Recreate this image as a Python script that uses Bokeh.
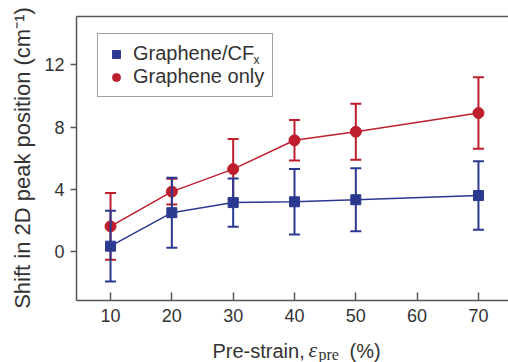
import math
from bokeh.plotting import figure
from bokeh.models import Range1d, Legend, LegendItem, FixedTicker, ColumnDataSource
from bokeh.core.properties import value
from bokeh.embed import file_html
from bokeh.resources import INLINE

# ---- data ----
strain = [10, 20, 30, 40, 50, 70]
cfx_shift = [0.35, 2.5, 3.15, 3.2, 3.33, 3.6]
cfx_err = [2.27, 2.25, 1.55, 2.1, 2.02, 2.2]
only_shift = [1.62, 3.85, 5.3, 7.15, 7.7, 8.9]
only_err = [2.15, 0.83, 1.94, 1.3, 1.8, 2.3]
x_ticks = [10, 20, 30, 40, 50, 60, 70]
y_ticks = [0, 4, 8, 12]

# axes box limits (data units)
X0, X1 = 4.45, 74.9
Y0, Y1 = -3.14, 15.1

BLUE = "#2B3990"
RED = "#BE1E2D"
AX = "#555555"
TXT = "#333333"
FONT = "Liberation Sans"

W, H = 508, 362
# the frame spans the whole canvas; the axes box sits inside it
PX_X = 432 / (X1 - X0)     # pixels per x unit
PX_Y = 284 / (Y1 - Y0)     # pixels per y unit
XS = X0 - 76 / PX_X
YE = Y1 + 16 / PX_Y
XE = XS + W / PX_X
YS = YE - H / PX_Y

def px2x(px):
    return XS + px / PX_X

def px2y(py):
    return YE - py / PX_Y

def src(y, e):
    return ColumnDataSource(dict(x=strain, y=y,
                                 lo=[a - b for a, b in zip(y, e)],
                                 hi=[a + b for a, b in zip(y, e)]))

s_cfx = src(cfx_shift, cfx_err)
s_only = src(only_shift, only_err)

p = figure(width=W, height=H, output_backend="svg", toolbar_location=None,
           x_range=Range1d(XS, XE), y_range=Range1d(YS, YE),
           min_border_left=0, min_border_right=0, min_border_top=0, min_border_bottom=0)
p.outline_line_color = None
p.grid.visible = False
p.background_fill_color = "white"
p.border_fill_color = "white"

for ax in (p.xaxis[0], p.yaxis[0]):
    ax.axis_line_color = None
    ax.major_tick_line_color = AX
    ax.major_tick_line_width = 1.5
    ax.minor_tick_line_color = None
    ax.major_label_text_font = FONT
    ax.major_label_text_font_size = "18px"
    ax.major_label_text_color = TXT

p.xaxis.fixed_location = Y0
p.xaxis.ticker = FixedTicker(ticks=x_ticks)
p.xaxis.major_tick_in = 8
p.xaxis.major_tick_out = 0
p.xaxis.major_label_standoff = 8

p.yaxis.fixed_location = X0
p.yaxis.ticker = FixedTicker(ticks=y_ticks)
p.yaxis.major_tick_in = 0
p.yaxis.major_tick_out = 6
p.yaxis.major_label_standoff = 6

# axes box lines: left, bottom, top
p.segment(x0=[X0, X0, X0], y0=[Y0, Y0, Y1], x1=[X0, X1, X1], y1=[Y1, Y0, Y1],
          line_color=AX, line_width=1.5)

# Graphene only (red)
p.segment("x", "lo", "x", "hi", source=s_only, line_color=RED, line_width=2)
p.scatter("x", "lo", source=s_only, marker="dash", size=11, line_color=RED, line_width=2)
p.scatter("x", "hi", source=s_only, marker="dash", size=11, line_color=RED, line_width=2)
p.line("x", "y", source=s_only, line_color=RED, line_width=1.5)
r_only = p.scatter("x", "y", source=s_only, marker="circle", size=11,
                   fill_color=RED, line_color=RED)

# Graphene/CFx (blue)
p.segment("x", "lo", "x", "hi", source=s_cfx, line_color=BLUE, line_width=2)
p.scatter("x", "lo", source=s_cfx, marker="dash", size=11, line_color=BLUE, line_width=2)
p.scatter("x", "hi", source=s_cfx, marker="dash", size=11, line_color=BLUE, line_width=2)
p.line("x", "y", source=s_cfx, line_color=BLUE, line_width=1.5)
r_cfx = p.scatter("x", "y", source=s_cfx, marker="square", size=10,
                  fill_color=BLUE, line_color=BLUE)

legend = Legend(items=[LegendItem(label="Graphene/CF", renderers=[r_cfx]),
                       LegendItem(label="Graphene only", renderers=[r_only])],
                location=(97, H - 97), orientation="vertical")
legend.label_text_font = FONT
legend.label_text_font_size = "20px"
legend.label_text_color = TXT
legend.label_standoff = 7
legend.glyph_width = 20
legend.glyph_height = 20
legend.label_height = 23
legend.padding = 8
legend.spacing = 0
legend.margin = 0
legend.border_line_color = "#444444"
legend.border_line_width = 1.5
legend.background_fill_alpha = 0
p.add_layout(legend)

def txt(px, py, text, font=FONT, size="20px", style="normal", angle=0.0,
        align="left"):
    p.text(x=[px2x(px)], y=[px2y(py)], text=[text], angle=angle,
           text_font=value(font), text_font_size=value(size),
           text_font_style=style, text_color=TXT,
           text_align=align, text_baseline="middle")

# subscript x in the legend
txt(253, 59, "x", size="12px")

# x axis label with italic epsilon and subscript
txt(212, 350, "Pre-strain,")
txt(308, 348.6, "\u03b5", font="Liberation Serif", size="22px", style="italic")
txt(318, 353.5, "pre", font="Liberation Serif", size="16px")
txt(349, 350, "(%)")

# y axis label
txt(22, 157.5, "Shift in 2D peak position (cm\u207b\u00b9)", size="22px",
    angle=math.pi / 2, align="center")

open("out.html", "w").write(file_html(p, INLINE))
